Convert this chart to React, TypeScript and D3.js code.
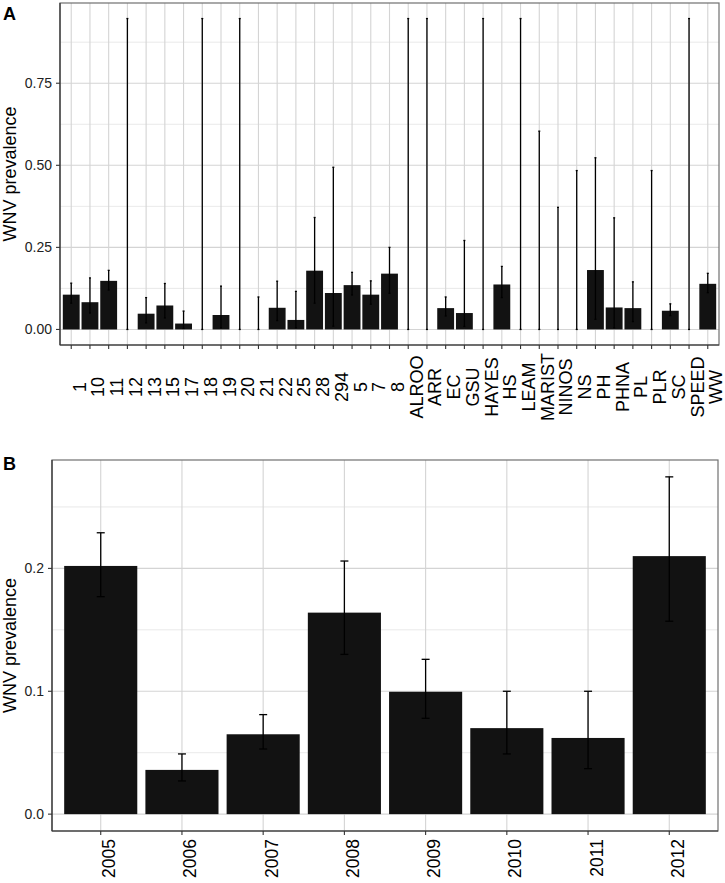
import React from 'react';
import * as d3 from 'd3';

// panel A: prevalence by site
const sites = ['1', '10', '11', '12', '13', '15', '17', '18', '19', '20', '21', '22', '25', '28', '294', '5', '7', '8',
  'ALROO', 'ARR', 'EC', 'GSU', 'HAYES', 'HS', 'LEAM', 'MARIST', 'NINOS', 'NS', 'PH', 'PHNA', 'PL', 'PLR', 'SC', 'SPEED', 'WW'];
const sitePrev = [0.106, 0.083, 0.148, 0, 0.048, 0.073, 0.018, 0, 0.044, 0, 0, 0.066, 0.029, 0.179, 0.111, 0.135, 0.106, 0.17,
  0, 0, 0.065, 0.05, 0, 0.137, 0, 0, 0, 0, 0.181, 0.067, 0.065, 0, 0.057, 0, 0.139];
const siteLower = [0.08, 0.05, 0.12, 0, 0.02, 0.035, 0.003, 0, 0.005, 0, 0, 0.027, 0.005, 0.08, 0.01, 0.105, 0.077, 0.11,
  0, 0, 0.041, 0.009, 0, 0.097, 0, 0, 0, 0, 0.031, 0.005, 0.024, 0, 0.042, 0, 0.112];
const siteUpper = [0.141, 0.157, 0.18, 0.947, 0.097, 0.14, 0.056, 0.947, 0.132, 0.947, 0.099, 0.147, 0.116, 0.341, 0.494, 0.174, 0.148, 0.25,
  0.947, 0.947, 0.099, 0.271, 0.947, 0.192, 0.947, 0.604, 0.372, 0.484, 0.523, 0.34, 0.145, 0.484, 0.078, 0.947, 0.171];
const siteTicks = [0, 0.25, 0.5, 0.75];
const siteTickLabels = ['0.00', '0.25', '0.50', '0.75'];
const siteMinor = [0.125, 0.375, 0.625, 0.875];

// panel B: prevalence by year
const years = ['2005', '2006', '2007', '2008', '2009', '2010', '2011', '2012'];
const yearPrev = [0.202, 0.036, 0.065, 0.164, 0.0996, 0.070, 0.062, 0.210];
const yearLower = [0.177, 0.027, 0.053, 0.13, 0.078, 0.049, 0.037, 0.157];
const yearUpper = [0.229, 0.049, 0.081, 0.206, 0.126, 0.100, 0.100, 0.2745];
const yearTicks = [0, 0.1, 0.2];
const yearTickLabels = ['0.0', '0.1', '0.2'];
const yearMinor = [0.05, 0.15, 0.25];

const FONT = 'Liberation Sans, Arial, Helvetica, sans-serif';
const BAR = '#121212';
const GRID = '#d4d4d4';
const GRID_MINOR = '#e3e3e3';

interface PanelProps {
  tag: string;
  cats: string[];
  vals: number[];
  lo: number[];
  hi: number[];
  ticks: number[];
  tickLabels: string[];
  minor: number[];
  left: number;
  right: number;
  top: number;
  bottom: number;
  tagY: number;
  capW: number;
  xFont: number;
  xCentered: boolean;
}

function Panel(p: PanelProps) {
  const x = d3
    .scaleBand()
    .domain(p.cats)
    .range([p.left, p.right])
    .paddingInner(0.1)
    .paddingOuter(0.15);

  // ggplot style 5% expansion around [0, max]
  const maxV = d3.max(p.hi) || 0;
  const y = d3
    .scaleLinear()
    .domain([-0.05 * maxV, 1.05 * maxV])
    .range([p.bottom, p.top]);

  const bw = x.bandwidth();
  const cx = (c: string) => (x(c) || 0) + bw / 2;

  return (
    <g fontFamily={FONT}>
      <text x={3} y={p.tagY} fontSize={18} fontWeight="bold" fill="#000">
        {p.tag}
      </text>

      {/* grid */}
      {p.minor.map((t, i) => (
        <line key={'mn' + i} x1={p.left} x2={p.right} y1={y(t)} y2={y(t)} stroke={GRID_MINOR} strokeWidth={0.8} />
      ))}
      {p.ticks.map((t, i) => (
        <line key={'mj' + i} x1={p.left} x2={p.right} y1={y(t)} y2={y(t)} stroke={GRID} strokeWidth={1.1} />
      ))}
      {p.cats.map(c => (
        <line key={'vg' + c} x1={cx(c)} x2={cx(c)} y1={p.top} y2={p.bottom} stroke={GRID} strokeWidth={1.1} />
      ))}

      {/* bars */}
      {p.cats.map((c, i) => (
        <rect
          key={'b' + c}
          x={x(c)}
          y={y(Math.max(p.vals[i], 0))}
          width={bw}
          height={Math.max(0, y(0) - y(p.vals[i]))}
          fill={BAR}
        />
      ))}

      {/* error bars */}
      {p.cats.map((c, i) => (
        <g key={'e' + c} stroke="#000" strokeWidth={1.3}>
          <line x1={cx(c)} x2={cx(c)} y1={y(p.lo[i])} y2={y(p.hi[i])} />
          <line x1={cx(c) - p.capW / 2} x2={cx(c) + p.capW / 2} y1={y(p.hi[i])} y2={y(p.hi[i])} />
          <line x1={cx(c) - p.capW / 2} x2={cx(c) + p.capW / 2} y1={y(p.lo[i])} y2={y(p.lo[i])} />
        </g>
      ))}

      {/* border + axis lines */}
      <rect x={p.left} y={p.top} width={p.right - p.left} height={p.bottom - p.top} fill="none" stroke="#707070" strokeWidth={1.2} />
      <line x1={p.left} x2={p.left} y1={p.top} y2={p.bottom} stroke="#333" strokeWidth={1.2} />
      <line x1={p.left} x2={p.right} y1={p.bottom} y2={p.bottom} stroke="#333" strokeWidth={1.2} />

      {/* y axis */}
      {p.ticks.map((t, i) => (
        <g key={'yt' + i}>
          <line x1={p.left - 4} x2={p.left} y1={y(t)} y2={y(t)} stroke="#333" strokeWidth={1.1} />
          <text x={p.left - 8} y={y(t)} dy="0.36em" textAnchor="end" fontSize={14} fill="#222">
            {p.tickLabels[i]}
          </text>
        </g>
      ))}
      <text
        transform={`translate(16,${(p.top + p.bottom) / 2}) rotate(-90)`}
        textAnchor="middle"
        fontSize={18}
        fill="#000"
      >
        WNV prevalence
      </text>

      {/* x axis */}
      {p.cats.map(c => (
        <g key={'xt' + c}>
          <line x1={cx(c)} x2={cx(c)} y1={p.bottom} y2={p.bottom + 4} stroke="#333" strokeWidth={1.1} />
          <text
            transform={`translate(${cx(c) + 14.5},${p.xCentered ? p.bottom + 42 : p.bottom + 8}) rotate(-90)`}
            textAnchor={p.xCentered ? 'middle' : 'end'}
            fontSize={p.xFont}
            fill="#000"
          >
            {c}
          </text>
        </g>
      ))}
    </g>
  );
}

export default function App() {
  return (
    <svg
      width={725}
      height={883}
      viewBox="0 0 725 883"
      style={{ position: 'absolute', left: 0, top: 0, background: '#fff' }}
    >
      <rect width={725} height={883} fill="#fff" />
      <Panel
        tag="A"
        cats={sites}
        vals={sitePrev}
        lo={siteLower}
        hi={siteUpper}
        ticks={siteTicks}
        tickLabels={siteTickLabels}
        minor={siteMinor}
        left={60}
        right={719}
        top={3}
        bottom={345}
        tagY={20}
        capW={2}
        xFont={18}
        xCentered={true}
      />
      <Panel
        tag="B"
        cats={years}
        vals={yearPrev}
        lo={yearLower}
        hi={yearUpper}
        ticks={yearTicks}
        tickLabels={yearTickLabels}
        minor={yearMinor}
        left={52}
        right={718}
        top={460}
        bottom={831}
        tagY={470}
        capW={8}
        xFont={17.5}
        xCentered={false}
      />
    </svg>
  );
}
